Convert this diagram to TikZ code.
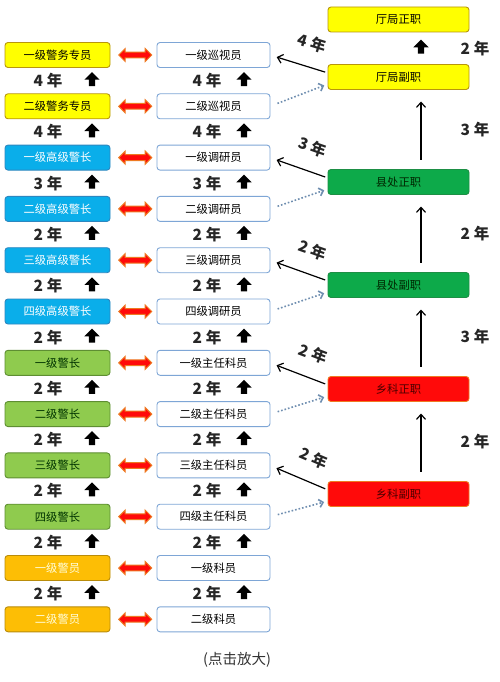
\documentclass[tikz,border=0pt]{standalone}
\usepackage{fontspec}
\setmainfont{Noto Sans CJK SC}
\usetikzlibrary{%
	positioning,
	calc,
	arrows.meta,
	shapes.arrows
}
\definecolor{jYellow}{HTML}{FFFF00}
\definecolor{jGold}{HTML}{B8960C}
\definecolor{jBlue}{HTML}{0AAEEA}
\definecolor{jBlueD}{HTML}{2C87C0}
\definecolor{jLime}{HTML}{8FCB4E}
\definecolor{jLimeD}{HTML}{5E8E32}
\definecolor{jOrange}{HTML}{FDBE05}
\definecolor{jOrangeD}{HTML}{B98C0A}
\definecolor{jFrame}{HTML}{7EA6D6}
\definecolor{jGreen}{HTML}{0DAA4A}
\definecolor{jGreenD}{HTML}{1D8F45}
\definecolor{jRed}{HTML}{FF0A0A}
\definecolor{jRedD}{HTML}{EE7A22}
\definecolor{jDots}{HTML}{6F8EB0}
\newcommand{\nian}[1]{#1\hspace{4pt}年}

\begin{document}
\begin{tikzpicture}[x=1pt,y=1pt,
		Box/.style={draw,rounded corners=3pt,minimum height=25pt,inner sep=1pt,outer sep=0pt,line width=.9pt,font=\fontsize{11.3}{13}\selectfont},
		LBox/.style={Box,minimum width=105pt},
		MBox/.style={Box,minimum width=113pt,draw=jFrame,fill=white},
		RBox/.style={Box,minimum width=141pt},
		Nian/.style={font=\fontsize{15.5}{17}\selectfont\bfseries,inner sep=0pt,text=black!85},
		UpBlk/.style={single arrow,shape border rotate=90,fill=black,minimum height=14pt,inner sep=3pt,single arrow head extend=4.5pt},
		DblArr/.style={double arrow,fill=jRed,draw=jRedD,line width=1pt,minimum height=33pt,inner sep=2.4pt,double arrow head extend=3.6pt},
		SolidArr/.style={-{Straight Barb[length=5pt,width=9pt]},line width=1.2pt,shorten <=3pt,shorten >=7pt},
		DotArr/.style={-{Straight Barb[length=4pt,width=8pt]},draw=jDots,line width=1.6pt,dotted,shorten <=8pt,shorten >=4pt},
		ThinUp/.style={-{Straight Barb[length=5pt,width=9pt]},line width=1.2pt,shorten <=10pt,shorten >=12pt}
	]
	
	\fill[white] (0,0) rectangle (500,-682);
	\useasboundingbox (0,0) rectangle (500,-682);
	
	%police ranks
	\node (L1) [LBox,fill=jYellow,draw=jGold] at (57.5,-55) {一级警务专员};
	\node (L2) [LBox,fill=jYellow,draw=jGold,below=26.3pt of L1] {二级警务专员};
	\node (L3) [LBox,fill=jBlue,draw=jBlueD,text=white,below=26.3pt of L2] {一级高级警长};
	\node (L4) [LBox,fill=jBlue,draw=jBlueD,text=white,below=26.3pt of L3] {二级高级警长};
	\node (L5) [LBox,fill=jBlue,draw=jBlueD,text=white,below=26.3pt of L4] {三级高级警长};
	\node (L6) [LBox,fill=jBlue,draw=jBlueD,text=white,below=26.3pt of L5] {四级高级警长};
	\node (L7) [LBox,fill=jLime,draw=jLimeD,text=black!80!green,below=26.3pt of L6] {一级警长};
	\node (L8) [LBox,fill=jLime,draw=jLimeD,text=black!80!green,below=26.3pt of L7] {二级警长};
	\node (L9) [LBox,fill=jLime,draw=jLimeD,text=black!80!green,below=26.3pt of L8] {三级警长};
	\node (L10) [LBox,fill=jLime,draw=jLimeD,text=black!80!green,below=26.3pt of L9] {四级警长};
	\node (L11) [LBox,fill=jOrange,draw=jOrangeD,text=yellow!15,below=26.3pt of L10] {一级警员};
	\node (L12) [LBox,fill=jOrange,draw=jOrangeD,text=yellow!15,below=26.3pt of L11] {二级警员};
	
	%civil ranks
	\node (M1) [MBox,right=47pt of L1] {一级巡视员};
	\node (M2) [MBox,right=47pt of L2] {二级巡视员};
	\node (M3) [MBox,right=47pt of L3] {一级调研员};
	\node (M4) [MBox,right=47pt of L4] {二级调研员};
	\node (M5) [MBox,right=47pt of L5] {三级调研员};
	\node (M6) [MBox,right=47pt of L6] {四级调研员};
	\node (M7) [MBox,right=47pt of L7] {一级主任科员};
	\node (M8) [MBox,right=47pt of L8] {二级主任科员};
	\node (M9) [MBox,right=47pt of L9] {三级主任科员};
	\node (M10) [MBox,right=47pt of L10] {四级主任科员};
	\node (M11) [MBox,right=47pt of L11] {一级科员};
	\node (M12) [MBox,right=47pt of L12] {二级科员};
	
	%equal
	\node (D1) [DblArr,right=8pt of L1] {};
	\node (D2) [DblArr,right=8pt of L2] {};
	\node (D3) [DblArr,right=8pt of L3] {};
	\node (D4) [DblArr,right=8pt of L4] {};
	\node (D5) [DblArr,right=8pt of L5] {};
	\node (D6) [DblArr,right=8pt of L6] {};
	\node (D7) [DblArr,right=8pt of L7] {};
	\node (D8) [DblArr,right=8pt of L8] {};
	\node (D9) [DblArr,right=8pt of L9] {};
	\node (D10) [DblArr,right=8pt of L10] {};
	\node (D11) [DblArr,right=8pt of L11] {};
	\node (D12) [DblArr,right=8pt of L12] {};
	
	%years, left
	\node (yL1) [Nian,xshift=-9.5pt] at ($(L1.south)!.5!(L2.north)$) {\nian{4}};
	\node (yL2) [Nian,xshift=-9.5pt] at ($(L2.south)!.5!(L3.north)$) {\nian{4}};
	\node (yL3) [Nian,xshift=-9.5pt] at ($(L3.south)!.5!(L4.north)$) {\nian{3}};
	\node (yL4) [Nian,xshift=-9.5pt] at ($(L4.south)!.5!(L5.north)$) {\nian{2}};
	\node (yL5) [Nian,xshift=-9.5pt] at ($(L5.south)!.5!(L6.north)$) {\nian{2}};
	\node (yL6) [Nian,xshift=-9.5pt] at ($(L6.south)!.5!(L7.north)$) {\nian{2}};
	\node (yL7) [Nian,xshift=-9.5pt] at ($(L7.south)!.5!(L8.north)$) {\nian{2}};
	\node (yL8) [Nian,xshift=-9.5pt] at ($(L8.south)!.5!(L9.north)$) {\nian{2}};
	\node (yL9) [Nian,xshift=-9.5pt] at ($(L9.south)!.5!(L10.north)$) {\nian{2}};
	\node (yL10) [Nian,xshift=-9.5pt] at ($(L10.south)!.5!(L11.north)$) {\nian{2}};
	\node (yL11) [Nian,xshift=-9.5pt] at ($(L11.south)!.5!(L12.north)$) {\nian{2}};
	\node (uL1) [UpBlk,xshift=34.5pt] at ($(L1.south)!.5!(L2.north)$) {};
	\node (uL2) [UpBlk,xshift=34.5pt] at ($(L2.south)!.5!(L3.north)$) {};
	\node (uL3) [UpBlk,xshift=34.5pt] at ($(L3.south)!.5!(L4.north)$) {};
	\node (uL4) [UpBlk,xshift=34.5pt] at ($(L4.south)!.5!(L5.north)$) {};
	\node (uL5) [UpBlk,xshift=34.5pt] at ($(L5.south)!.5!(L6.north)$) {};
	\node (uL6) [UpBlk,xshift=34.5pt] at ($(L6.south)!.5!(L7.north)$) {};
	\node (uL7) [UpBlk,xshift=34.5pt] at ($(L7.south)!.5!(L8.north)$) {};
	\node (uL8) [UpBlk,xshift=34.5pt] at ($(L8.south)!.5!(L9.north)$) {};
	\node (uL9) [UpBlk,xshift=34.5pt] at ($(L9.south)!.5!(L10.north)$) {};
	\node (uL10) [UpBlk,xshift=34.5pt] at ($(L10.south)!.5!(L11.north)$) {};
	\node (uL11) [UpBlk,xshift=34.5pt] at ($(L11.south)!.5!(L12.north)$) {};
	
	%years, middle
	\node (yM1) [Nian,xshift=-6.5pt] at ($(M1.south)!.5!(M2.north)$) {\nian{4}};
	\node (yM2) [Nian,xshift=-6.5pt] at ($(M2.south)!.5!(M3.north)$) {\nian{4}};
	\node (yM3) [Nian,xshift=-6.5pt] at ($(M3.south)!.5!(M4.north)$) {\nian{3}};
	\node (yM4) [Nian,xshift=-6.5pt] at ($(M4.south)!.5!(M5.north)$) {\nian{2}};
	\node (yM5) [Nian,xshift=-6.5pt] at ($(M5.south)!.5!(M6.north)$) {\nian{2}};
	\node (yM6) [Nian,xshift=-6.5pt] at ($(M6.south)!.5!(M7.north)$) {\nian{2}};
	\node (yM7) [Nian,xshift=-6.5pt] at ($(M7.south)!.5!(M8.north)$) {\nian{2}};
	\node (yM8) [Nian,xshift=-6.5pt] at ($(M8.south)!.5!(M9.north)$) {\nian{2}};
	\node (yM9) [Nian,xshift=-6.5pt] at ($(M9.south)!.5!(M10.north)$) {\nian{2}};
	\node (yM10) [Nian,xshift=-6.5pt] at ($(M10.south)!.5!(M11.north)$) {\nian{2}};
	\node (yM11) [Nian,xshift=-6.5pt] at ($(M11.south)!.5!(M12.north)$) {\nian{2}};
	\node (uM1) [UpBlk,xshift=30.5pt] at ($(M1.south)!.5!(M2.north)$) {};
	\node (uM2) [UpBlk,xshift=30.5pt] at ($(M2.south)!.5!(M3.north)$) {};
	\node (uM3) [UpBlk,xshift=30.5pt] at ($(M3.south)!.5!(M4.north)$) {};
	\node (uM4) [UpBlk,xshift=30.5pt] at ($(M4.south)!.5!(M5.north)$) {};
	\node (uM5) [UpBlk,xshift=30.5pt] at ($(M5.south)!.5!(M6.north)$) {};
	\node (uM6) [UpBlk,xshift=30.5pt] at ($(M6.south)!.5!(M7.north)$) {};
	\node (uM7) [UpBlk,xshift=30.5pt] at ($(M7.south)!.5!(M8.north)$) {};
	\node (uM8) [UpBlk,xshift=30.5pt] at ($(M8.south)!.5!(M9.north)$) {};
	\node (uM9) [UpBlk,xshift=30.5pt] at ($(M9.south)!.5!(M10.north)$) {};
	\node (uM10) [UpBlk,xshift=30.5pt] at ($(M10.south)!.5!(M11.north)$) {};
	\node (uM11) [UpBlk,xshift=30.5pt] at ($(M11.south)!.5!(M12.north)$) {};
	
	%posts
	\node (R1) [RBox,fill=jYellow,draw=jGold] at (398.5,-19.5) {厅局正职};
	\node (R2) [RBox,fill=jYellow,draw=jGold,below=32.5pt of R1] {厅局副职};
	\node (R3) [RBox,fill=jGreen,draw=jGreenD,text=black!85!green,below=80pt of R2] {县处正职};
	\node (R4) [RBox,fill=jGreen,draw=jGreenD,text=black!85!green,below=78pt of R3] {县处副职};
	\node (R5) [RBox,fill=jRed,draw=jRedD,text=black!70!red,below=79pt of R4] {乡科正职};
	\node (R6) [RBox,fill=jRed,draw=jRedD,text=black!70!red,below=80pt of R5] {乡科副职};
	
	\node (uR1) [UpBlk,xshift=22.5pt] at ($(R1.south)!.5!(R2.north)$) {};
	\draw [ThinUp] ([xshift=22.5pt]R3.north) -- ([xshift=22.5pt]R2.south);
	\draw [ThinUp] ([xshift=22.5pt]R4.north) -- ([xshift=22.5pt]R3.south);
	\draw [ThinUp] ([xshift=22.5pt]R5.north) -- ([xshift=22.5pt]R4.south);
	\draw [ThinUp] ([xshift=22.5pt]R6.north) -- ([xshift=22.5pt]R5.south);
	\node (yR1) [Nian,xshift=76.5pt] at ($(R1.south)!.5!(R2.north)$) {\nian{2}};
	\node (yR2) [Nian,xshift=76.5pt] at ($(R2.south)!.5!(R3.north)$) {\nian{3}};
	\node (yR3) [Nian,xshift=76.5pt] at ($(R3.south)!.5!(R4.north)$) {\nian{2}};
	\node (yR4) [Nian,xshift=76.5pt] at ($(R4.south)!.5!(R5.north)$) {\nian{3}};
	\node (yR5) [Nian,xshift=76.5pt] at ($(R5.south)!.5!(R6.north)$) {\nian{2}};
	
	%links
	\draw [SolidArr] ([yshift=4pt]R2.west) -- (M1.east) node [Nian,pos=.4,sloped,above=16pt] {\nian{4}};
	\draw [SolidArr] ([yshift=4pt]R3.west) -- (M3.east) node [Nian,pos=.4,sloped,above=16pt] {\nian{3}};
	\draw [SolidArr] ([yshift=4pt]R4.west) -- (M5.east) node [Nian,pos=.4,sloped,above=16pt] {\nian{2}};
	\draw [SolidArr] ([yshift=4pt]R5.west) -- (M7.east) node [Nian,pos=.4,sloped,above=16pt] {\nian{2}};
	\draw [SolidArr] ([yshift=4pt]R6.west) -- (M9.east) node [Nian,pos=.4,sloped,above=16pt] {\nian{2}};
	\draw [DotArr] (M2.east) -- ([yshift=-7pt]R2.west);
	\draw [DotArr] (M4.east) -- ([yshift=-7pt]R3.west);
	\draw [DotArr] (M6.east) -- ([yshift=-7pt]R4.west);
	\draw [DotArr] (M8.east) -- ([yshift=-7pt]R5.west);
	\draw [DotArr] (M10.east) -- ([yshift=-7pt]R6.west);
	
	\node (note) [font=\fontsize{14.5}{16}\selectfont,text=black!80] at (237,-660) {(点击放大)};
	
\end{tikzpicture}
\end{document}
